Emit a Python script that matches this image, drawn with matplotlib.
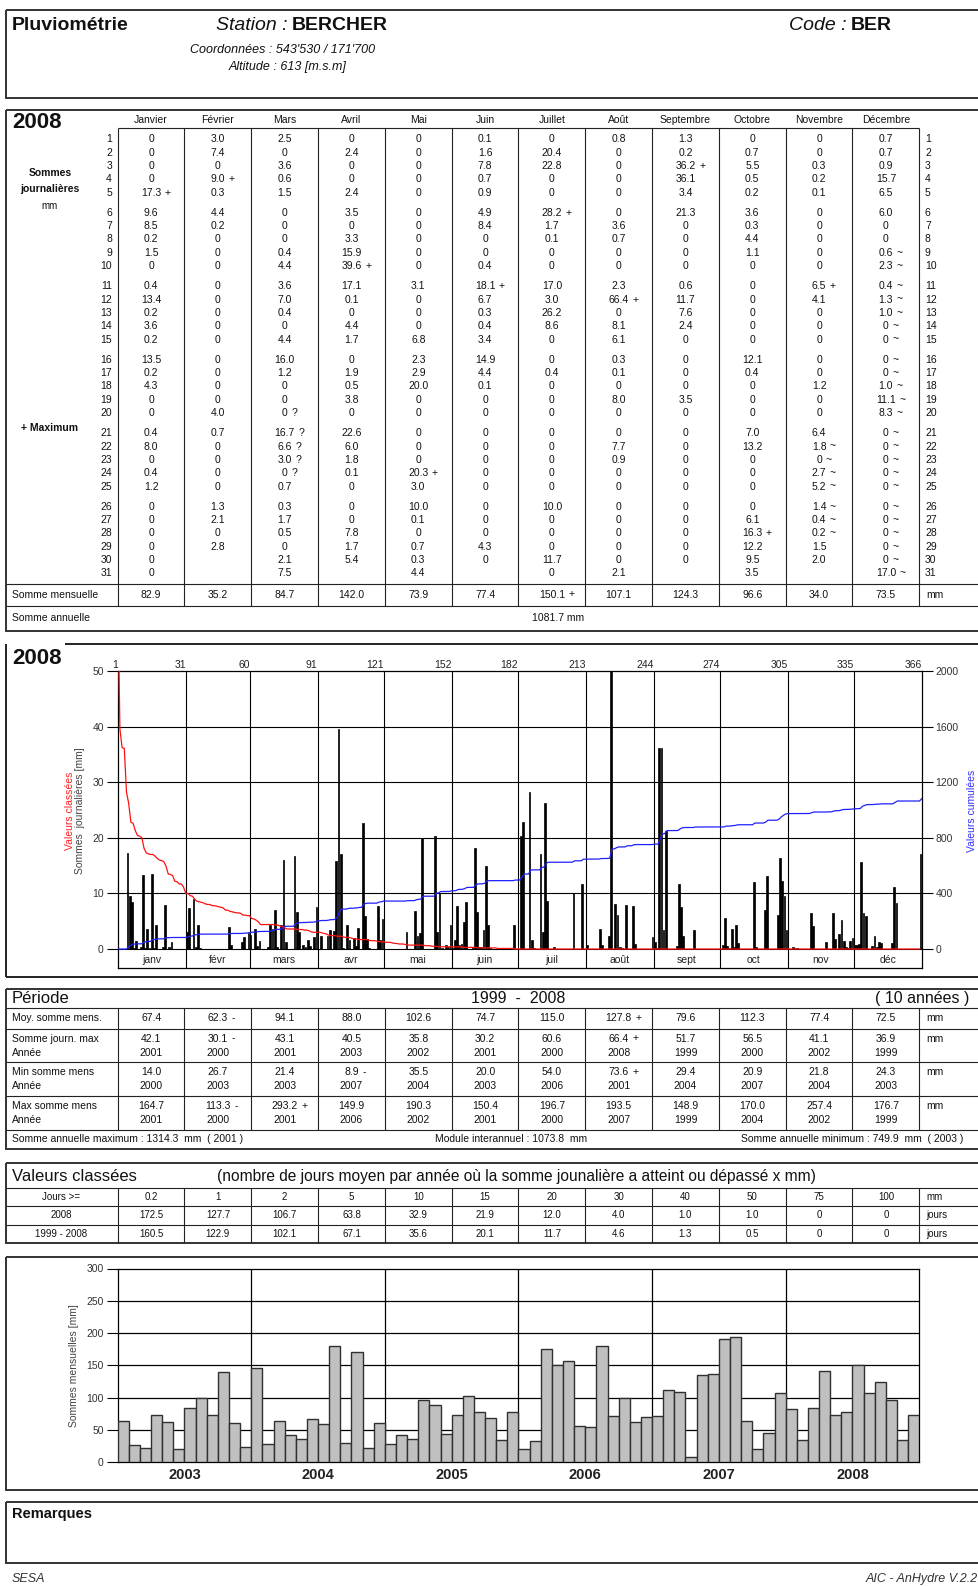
import numpy as np
import matplotlib.pyplot as plt
from matplotlib.patches import Rectangle

plt.rcParams['font.family'] = ['Liberation Sans', 'DejaVu Sans']

# Sommes journalières 2008 [mm], une liste par mois
janvier = [0, 0, 0, 0, 17.3, 9.6, 8.5, 0.2, 1.5, 0, 0.4, 13.4, 0.2, 3.6, 0.2,
           13.5, 0.2, 4.3, 0, 0, 0.4, 8.0, 0, 0.4, 1.2, 0, 0, 0, 0, 0, 0]
fevrier = [3.0, 7.4, 0, 9.0, 0.3, 4.4, 0.2, 0, 0, 0, 0, 0, 0, 0, 0,
           0, 0, 0, 0, 4.0, 0.7, 0, 0, 0, 0, 1.3, 2.1, 0, 2.8]
mars = [2.5, 0, 3.6, 0.6, 1.5, 0, 0, 0, 0.4, 4.4, 3.6, 7.0, 0.4, 0, 4.4,
        16.0, 1.2, 0, 0, 0, 16.7, 6.6, 3.0, 0, 0.7, 0.3, 1.7, 0.5, 0, 2.1, 7.5]
avril = [0, 2.4, 0, 0, 2.4, 3.5, 0, 3.3, 15.9, 39.6, 17.1, 0.1, 0, 4.4, 1.7,
         0, 1.9, 0.5, 3.8, 0, 22.6, 6.0, 1.8, 0.1, 0, 0, 0, 7.8, 1.7, 5.4]
mai = [0, 0, 0, 0, 0, 0, 0, 0, 0, 0, 3.1, 0, 0, 0, 6.8,
       2.3, 2.9, 20.0, 0, 0, 0, 0, 0, 20.3, 3.0, 10.0, 0.1, 0, 0.7, 0.3, 4.4]
juin = [0.1, 1.6, 7.8, 0.7, 0.9, 4.9, 8.4, 0, 0, 0.4, 18.1, 6.7, 0.3, 0.4, 3.4,
        14.9, 4.4, 0.1, 0, 0, 0, 0, 0, 0, 0, 0, 0, 0, 4.3, 0]
juillet = [0, 20.4, 22.8, 0, 0, 28.2, 1.7, 0.1, 0, 0, 17.0, 3.0, 26.2, 8.6, 0,
           0, 0.4, 0, 0, 0, 0, 0, 0, 0, 0, 10.0, 0, 0, 0, 11.7, 0]
aout = [0.8, 0, 0, 0, 0, 0, 3.6, 0.7, 0, 0, 2.3, 66.4, 0, 8.1, 6.1,
        0.3, 0.1, 0, 8.0, 0, 0, 7.7, 0.9, 0, 0, 0, 0, 0, 0, 0, 2.1]
septembre = [1.3, 0.2, 36.2, 36.1, 3.4, 21.3, 0, 0, 0, 0, 0.6, 11.7, 7.6, 2.4, 0,
             0, 0, 0, 3.5, 0, 0, 0, 0, 0, 0, 0, 0, 0, 0, 0]
octobre = [0, 0.7, 5.5, 0.5, 0.2, 3.6, 0.3, 4.4, 1.1, 0, 0, 0, 0, 0, 0,
           12.1, 0.4, 0, 0, 0, 7.0, 13.2, 0, 0, 0, 0, 6.1, 16.3, 12.2, 9.5, 3.5]
novembre = [0, 0, 0.3, 0.2, 0.1, 0, 0, 0, 0, 0, 6.5, 4.1, 0, 0, 0,
            0, 0, 1.2, 0, 0, 6.4, 1.8, 0, 2.7, 5.2, 1.4, 0.4, 0.2, 1.5, 2.0]
decembre = [0.7, 0.7, 0.9, 15.7, 6.5, 6.0, 0, 0, 0.6, 2.3, 0.4, 1.3, 1.0, 0, 0,
            0, 0, 1.0, 11.1, 8.3, 0, 0, 0, 0, 0, 0, 0, 0, 0, 0, 17.0]
journalier = [janvier, fevrier, mars, avril, mai, juin, juillet, aout,
              septembre, octobre, novembre, decembre]

mois = ['Janvier', 'Février', 'Mars', 'Avril', 'Mai', 'Juin', 'Juillet', 'Août',
        'Septembre', 'Octobre', 'Novembre', 'Décembre']
mois_court = ['janv', 'févr', 'mars', 'avr', 'mai', 'juin', 'juil', 'août',
              'sept', 'oct', 'nov', 'déc']

# jours douteux (?) et estimés (~) : {mois: [jours]}
douteux = {2: [20, 21, 22, 23, 24]}
estimes = {10: [22, 23, 24, 25, 26, 27, 28],
           11: [9, 10, 11, 12, 13, 14, 15, 16, 17, 18, 19, 20, 21, 22, 23,
                24, 25, 26, 27, 28, 29, 30, 31]}

# statistiques 1999 - 2008
moy_mens = [67.4, 62.3, 94.1, 88.0, 102.6, 74.7, 115.0, 127.8, 79.6, 112.3, 77.4, 72.5]
jour_max = [42.1, 30.1, 43.1, 40.5, 35.8, 30.2, 60.6, 66.4, 51.7, 56.5, 41.1, 36.9]
jour_max_an = [2001, 2000, 2001, 2003, 2002, 2001, 2000, 2008, 1999, 2000, 2002, 1999]
min_mens = [14.0, 26.7, 21.4, 8.9, 35.5, 20.0, 54.0, 73.6, 29.4, 20.9, 21.8, 24.3]
min_mens_an = [2000, 2003, 2003, 2007, 2004, 2003, 2006, 2001, 2004, 2007, 2004, 2003]
max_mens = [164.7, 113.3, 293.2, 149.9, 190.3, 150.4, 196.7, 193.5, 148.9, 170.0, 257.4, 176.7]
max_mens_an = [2001, 2000, 2001, 2006, 2002, 2001, 2000, 2007, 1999, 2004, 2002, 1999]
annuel_max, annuel_max_an = 1314.3, 2001
module_inter = 1073.8
annuel_min, annuel_min_an = 749.9, 2003

# valeurs classées (jours >= seuil)
seuils = ['0.2', '1', '2', '5', '10', '15', '20', '30', '40', '50', '75', '100']
jours_2008 = [172.5, 127.7, 106.7, 63.8, 32.9, 21.9, 12.0, 4.0, 1.0, 1.0, 0, 0]
jours_periode = [160.5, 122.9, 102.1, 67.1, 35.6, 20.1, 11.7, 4.6, 1.3, 0.5, 0, 0]

# sommes mensuelles 2003 - 2007 [mm] (2008 calculé depuis les valeurs journalières)
annees = ['2003', '2004', '2005', '2006', '2007', '2008']
m2003 = [64.7, 26.7, 21.4, 73.5, 63.1, 20.0, 84.8, 99.3, 73.5, 139.2, 60.5, 24.3]
m2004 = [146.4, 27.9, 64.7, 41.9, 35.5, 66.7, 59.5, 180.0, 29.4, 170.0, 21.8, 61.6]
m2005 = [28.0, 43.0, 35.7, 96.7, 89.0, 44.5, 73.5, 103.0, 78.6, 69.3, 34.7, 78.6]
m2006 = [20.7, 33.6, 174.9, 149.9, 156.8, 55.9, 54.0, 180.5, 71.4, 99.3, 62.1, 69.8]
m2007 = [71.4, 111.2, 109.2, 8.9, 135.0, 136.6, 190.4, 193.5, 64.1, 20.9, 45.5, 106.6]

sommes_2008 = [round(sum(v), 1) for v in journalier]
mensuel = m2003 + m2004 + m2005 + m2006 + m2007 + sommes_2008
jours = np.concatenate([np.array(v, float) for v in journalier])
limites = np.concatenate([[0], np.cumsum([len(v) for v in journalier])])


def fmt(v):
    return '0' if v == 0 else f'{v:.1f}'


W, H = 979, 1586
fig = plt.figure(figsize=(W / 100, H / 100), dpi=100)
page = fig.add_axes([0, 0, 1, 1])
page.set_xlim(0, W)
page.set_ylim(H, 0)
page.axis('off')
renderer = fig.canvas.get_renderer()
LC = '#222222'


def txt(x, y, s, size=7.5, **kw):
    kw.setdefault('va', 'center')
    kw.setdefault('color', '#111111')
    return page.text(x, y, s, fontsize=size, **kw)


def cell(x, y, s, flag='', size=7.5, **kw):
    t = txt(x, y, s, size, ha='center', **kw)
    if flag:
        w = t.get_window_extent(renderer).width
        txt(x + w / 2 + 3.5, y, flag, size, ha='left', **kw)


def hline(y, x0=6, x1=W + 30, lw=0.8):
    page.plot([x0, x1], [y, y], color=LC, lw=lw, solid_capstyle='butt')


def vline(x, y0, y1, lw=0.8):
    page.plot([x, x], [y0, y1], color=LC, lw=lw, solid_capstyle='butt')


def box(y0, y1):
    page.add_patch(Rectangle((6, y0), W + 30, y1 - y0, fill=False, ec='#333333', lw=1.4))


def to_fig(x0, y0, x1, y1):
    return [x0 / W, 1 - y1 / H, (x1 - x0) / W, (y1 - y0) / H]


cols = [117.7 + k * 66.8 for k in range(13)]
centres = [(cols[k] + cols[k + 1]) / 2 for k in range(12)]

# ---- en-tête ----
box(10, 98)
txt(12, 25, 'Pluviométrie', 14, weight='bold')
txt(288, 25, 'Station :', 14, ha='right', style='italic')
txt(292, 25, 'BERCHER', 14, weight='bold')
txt(190, 50, "Coordonnées : 543'530 / 171'700", 9, style='italic')
txt(229, 67, 'Altitude : 613 [m.s.m]', 9, style='italic')
txt(847, 25, 'Code :', 14, ha='right', style='italic')
txt(851, 25, 'BER', 14, weight='bold')

# ---- tableau des sommes journalières ----
box(110, 631)
txt(12, 122, '2008', 16, weight='bold')
hline(127.7, cols[0], cols[-1])
for x in cols:
    vline(x, 127.7, 605.7)
hline(584)
hline(605.7)
for m in range(12):
    txt(centres[m], 120, mois[m], 7.5, ha='center')


def jour_y(d):
    return 139.3 + (d - 1) * 13.32 + min((d - 1) // 5, 5) * 6.9


for d in range(1, 32):
    txt(112, jour_y(d), str(d), 7.5, ha='right')
    txt(925, jour_y(d), str(d), 7.5, ha='left')
txt(50, 173, 'Sommes', 7.5, ha='center', weight='bold')
txt(50, 189, 'journalières', 7.5, ha='center', weight='bold')
txt(50, 206, 'mm', 7, ha='center')
txt(50, 428, '+ Maximum', 7.5, ha='center', weight='bold')

for m, vals in enumerate(journalier):
    imax = int(np.argmax(vals))
    for d, v in enumerate(vals, 1):
        flag = ''
        if d in douteux.get(m, []):
            flag = '?'
        elif d in estimes.get(m, []):
            flag = '~'
        elif d - 1 == imax:
            flag = '+'
        cell(centres[m], jour_y(d), fmt(v), flag)

txt(12, 594.5, 'Somme mensuelle', 7.5)
smax = int(np.argmax(sommes_2008))
for m, s in enumerate(sommes_2008):
    cell(centres[m], 594.5, fmt(s), '+' if m == smax else '')
txt(926, 594.5, 'mm', 7.5)
txt(12, 618, 'Somme annuelle', 7.5)
txt(558, 618, f'{sum(sommes_2008):.1f} mm', 7.5, ha='center')

# ---- graphique journalier ----
vline(6, 644, 977, lw=1.4)
hline(644, 65, lw=1.4)
hline(977, lw=1.4)
txt(12, 658, '2008', 16, weight='bold')

ybas = -3.47
ax = fig.add_axes(to_fig(117.7, 671, 921.7, 968.3))
ax.set_xlim(0, 366)
ax.set_ylim(ybas, 50)
ax.hlines([0, 10, 20, 30, 40], 0, 366, color='black', lw=0.8, zorder=1)
ax.vlines(limites[1:-1], ybas, 50, color='black', lw=0.8, zorder=1)
ax.bar(np.arange(366) + 0.5, jours, width=0.8, color='black',
       edgecolor='black', lw=0.5, zorder=3)
ax.plot(np.arange(366), np.sort(jours)[::-1], color='#ff1010', lw=0.9, zorder=4)
ax.set_xticks([])
ax.set_yticks([0, 10, 20, 30, 40, 50])
ax.tick_params(axis='y', length=8, width=0.8, labelsize=7.5, labelcolor='#333333', pad=2)
for sp in ax.spines.values():
    sp.set_linewidth(0.9)
for k, b in enumerate(limites):
    ax.text(b, 50.1, '1' if b == 0 else str(b), ha='right', va='bottom', fontsize=7.5, color='#222222')
for m in range(12):
    ax.text((limites[m] + limites[m + 1]) / 2, -1.95, mois_court[m],
            ha='center', va='center', fontsize=7.5, color='#222222')

ax2 = ax.twinx()
ax2.set_ylim(ybas * 40, 2000)
ax2.set_yticks([0, 400, 800, 1200, 1600, 2000])
ax2.tick_params(axis='y', length=8, width=0.8, labelsize=7.5, labelcolor='#333333', pad=2)
ax2.plot(np.arange(367), np.concatenate([[0], np.cumsum(jours)]), color='#2020ff', lw=0.9, zorder=4)
for sp in ax2.spines.values():
    sp.set_visible(False)

txt(70, 811, 'Valeurs classées', 7.5, ha='center', rotation=90, color='#ff2020')
txt(80, 811, 'Sommes  journalières [mm]', 7.5, ha='center', rotation=90, color='#444444')
txt(972, 811, 'Valeurs cumulées', 7.5, ha='center', rotation=90, color='#3030ff')

# ---- statistiques de la période ----
box(989, 1149)
txt(12, 998.5, 'Période', 12)
txt(518, 998.5, '1999  -  2008', 11.5, ha='center')
txt(875, 998.5, '( 10 années )', 11.5)
lignes = [1008, 1028.5, 1062.3, 1096, 1129.8]
for y in lignes:
    hline(y)
for x in cols:
    vline(x, 1008, 1129.8)


def drapeaux(vals):
    lo, hi = int(np.argmin(vals)), int(np.argmax(vals))
    return ['+' if i == hi else '-' if i == lo else '' for i in range(len(vals))]


ym = (lignes[0] + lignes[1]) / 2
txt(12, ym, 'Moy. somme mens.', 7.5)
for m, (v, f) in enumerate(zip(moy_mens, drapeaux(moy_mens))):
    cell(centres[m], ym, fmt(v), f)
txt(926, ym, 'mm', 7.5)

blocs = [('Somme journ. max', jour_max, jour_max_an),
         ('Min somme mens', min_mens, min_mens_an),
         ('Max somme mens', max_mens, max_mens_an)]
for k, (lab, vals, ans) in enumerate(blocs):
    y1 = lignes[k + 1] + 10
    y2 = y1 + 14
    txt(12, y1, lab, 7.5)
    txt(12, y2, 'Année', 7.5)
    txt(926, y1, 'mm', 7.5)
    for m, (v, f) in enumerate(zip(vals, drapeaux(vals))):
        cell(centres[m], y1, fmt(v), f)
        cell(centres[m], y2, str(ans[m]))

yb = 1139.5
txt(12, yb, f'Somme annuelle maximum : {annuel_max}  mm  ( {annuel_max_an} )', 7.5)
txt(435, yb, f'Module interannuel : {module_inter}  mm', 7.5)
txt(741, yb, f'Somme annuelle minimum : {annuel_min}  mm  ( {annuel_min_an} )', 7.5)

# ---- valeurs classées ----
box(1163, 1243)
txt(12, 1176.5, 'Valeurs classées', 12)
txt(217, 1176.5, '(nombre de jours moyen par année où la somme jounalière a atteint ou dépassé x mm)', 11.2)
vc = [1187.5, 1206, 1224.5, 1243]
for y in vc[:-1]:
    hline(y)
for x in cols:
    vline(x, 1187.5, 1243)
rows = [('Jours >=', seuils, 'mm'),
        ('2008', [fmt(v) for v in jours_2008], 'jours'),
        ('1999 - 2008', [fmt(v) for v in jours_periode], 'jours')]
for k, (lab, vals, unit) in enumerate(rows):
    y = (vc[k] + vc[k + 1]) / 2
    cell(61, y, lab, size=7)
    for m, v in enumerate(vals):
        cell(centres[m], y, v, size=7)
    txt(926, y, unit, 7)

# ---- sommes mensuelles 2003 - 2008 ----
box(1257, 1490)
ax3 = fig.add_axes(to_fig(117.7, 1268.5, 919.3, 1462.3))
ax3.set_xlim(0, 72)
ax3.set_ylim(0, 300)
ax3.hlines([50, 100, 150, 200, 250], 0, 72, color='black', lw=0.9, zorder=1)
ax3.vlines([12, 24, 36, 48, 60], 0, 300, color='black', lw=0.9, zorder=1)
ax3.bar(np.arange(72) + 0.5, mensuel, width=1, color='#c0c0c0',
        edgecolor='#303030', lw=1.0, zorder=3)
ax3.set_yticks([0, 50, 100, 150, 200, 250, 300])
ax3.tick_params(axis='y', length=8, width=0.8, labelsize=7.5, labelcolor='#333333', pad=2)
ax3.set_xticks([6, 18, 30, 42, 54, 66])
ax3.set_xticklabels(annees, fontsize=10.5, weight='bold', color='#222222')
ax3.tick_params(axis='x', length=0, pad=4)
for sp in ax3.spines.values():
    sp.set_linewidth(0.9)
txt(74, 1366, 'Sommes mensuelles [mm]', 7.5, ha='center', rotation=90, color='#444444')

# ---- remarques et pied de page ----
box(1502, 1563)
txt(12, 1514, 'Remarques', 10.5, weight='bold')
txt(12, 1579, 'SESA', 9, style='italic', color='#333333')
txt(978, 1579, 'AIC - AnHydre V.2.2', 9, ha='right', style='italic', color='#333333')

fig.savefig('out.png', dpi=100)
